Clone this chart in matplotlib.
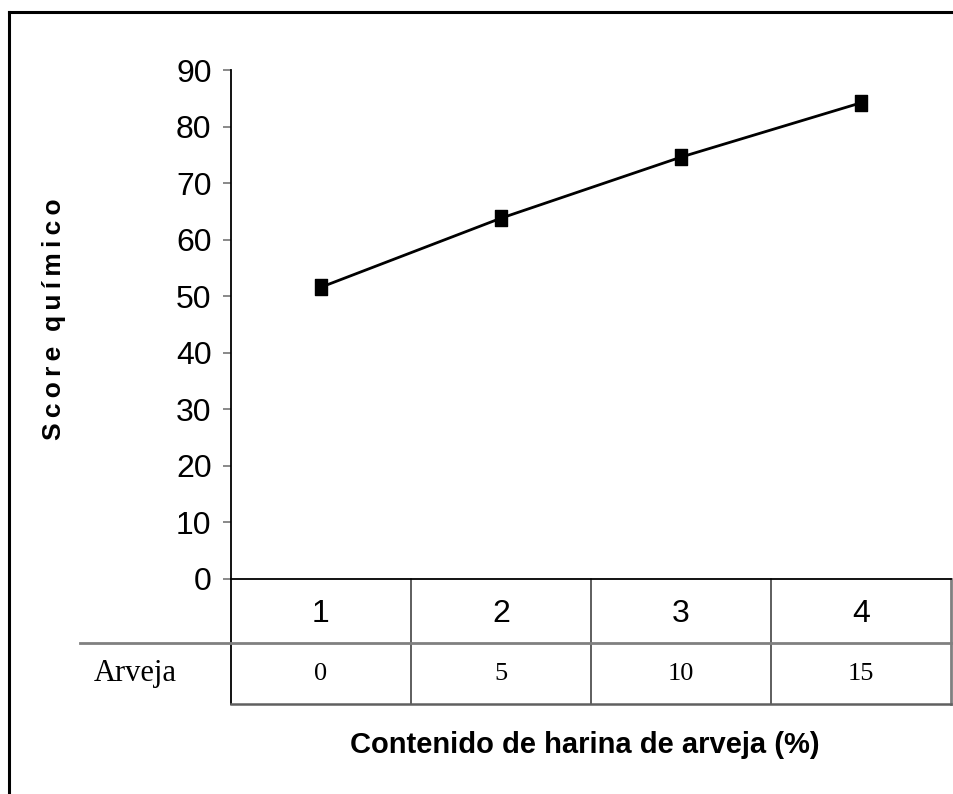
import matplotlib
matplotlib.use('Agg')
import matplotlib.pyplot as plt
from matplotlib.lines import Line2D
from matplotlib.path import Path

# Score químico por nivel de sustitución
categorias = [1, 2, 3, 4]
arveja = ['0', '5', '10', '15']
score = [51.6, 63.8, 74.6, 84.2]
yticks = list(range(0, 100, 10))

sans = ['Liberation Sans', 'DejaVu Sans']
serif = ['Liberation Serif', 'DejaVu Serif']

fig = plt.figure(figsize=(9.54, 7.94), dpi=100)
ax = fig.add_axes([231 / 954, 215 / 794, 720 / 954, 509 / 794])

# marcador rectangular algo más alto que ancho
rect = Path([(-0.7, -1), (0.7, -1), (0.7, 1), (-0.7, 1), (-0.7, -1)],
            [Path.MOVETO, Path.LINETO, Path.LINETO, Path.LINETO, Path.CLOSEPOLY])
ax.plot(categorias, score, color='black', lw=2, marker=rect, markersize=12,
        markerfacecolor='black', markeredgecolor='black', zorder=3)

ax.set_xlim(0.5, 4.5)
ax.set_ylim(0, 90)
ax.set_yticks(yticks)
ax.set_yticklabels([str(v) for v in yticks], family=sans, fontsize=23)
ax.tick_params(axis='y', length=6, width=1.3, color='#808080', pad=8)
ax.set_xticks([])
for s in ['top', 'right']:
    ax.spines[s].set_visible(False)
ax.spines['left'].set_linewidth(1.3)
ax.spines['bottom'].set_linewidth(1.3)

# tabla de datos bajo el eje x
upp = 509 / 90.0
y_mid = -64 / upp
y_bot = -125 / upp
kw = dict(transform=ax.transData, clip_on=False)
ax.add_line(Line2D([0.5, 0.5], [0, y_bot], color='black', lw=1.3, **kw))
for xv in [1.5, 2.5, 3.5]:
    ax.add_line(Line2D([xv, xv], [0, y_bot], color='#333333', lw=1.1, **kw))
ax.add_line(Line2D([4.5, 4.5], [0, y_bot], color='#808080', lw=2, **kw))
ax.add_line(Line2D([-0.34, 4.5], [y_mid, y_mid], color='#808080', lw=2, **kw))
ax.add_line(Line2D([0.5, 4.5], [y_bot, y_bot], color='#606060', lw=1.8, **kw))

for c, a in zip(categorias, arveja):
    ax.text(c, -35 / upp, str(c), ha='center', va='center', family=sans,
            fontsize=23, clip_on=False)
    ax.text(c, -95 / upp, a, ha='center', va='center', family=serif,
            fontsize=19, clip_on=False)
ax.text(-0.03, -95 / upp, 'Arveja', ha='center', va='center', family=serif,
        fontsize=22, clip_on=False)

fig.text(54 / 954, 1 - 319 / 794, 'S\u2009c\u2009o\u2009r\u2009e  q\u2009u\u2009í\u2009m\u2009i\u2009c\u2009o',
         rotation=90, ha='center', va='center', family=sans,
         fontweight='bold', fontsize=19)
fig.text(585 / 954, 1 - 745 / 794, 'Contenido de harina de arveja (%)',
         ha='center', va='center', family=sans, fontweight='bold', fontsize=21)

# marco exterior (solo borde superior e izquierdo visibles)
fig.add_artist(Line2D([9 / 954, 9 / 954], [0, 1 - 11.5 / 794], color='black',
                      lw=2.2, transform=fig.transFigure))
fig.add_artist(Line2D([9 / 954, 1], [1 - 11.5 / 794, 1 - 11.5 / 794],
                      color='black', lw=2.2, transform=fig.transFigure))

fig.savefig('out.png', dpi=100, facecolor='white')
